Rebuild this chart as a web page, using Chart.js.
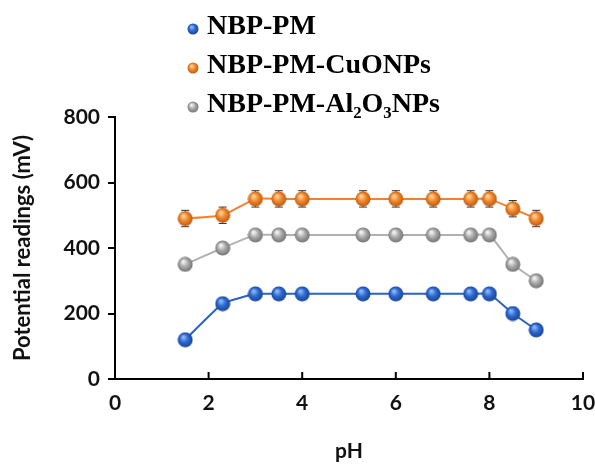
<!DOCTYPE html>
<html>
<head>
<meta charset="utf-8">
<script src="https://cdn.jsdelivr.net/npm/chart.js@4"></script>
<style>
  html, body { margin: 0; padding: 0; background: #fff; }
  #wrap { width: 595px; height: 464px; }
</style>
</head>
<body>
<div id="wrap"><canvas id="phChart" width="595" height="464"></canvas></div>
<script>
// ---- data ----
const phValues = [1.5, 2.3, 3, 3.5, 4, 5.3, 6, 6.8, 7.6, 8, 8.5, 9];
const pmReadings    = [120, 230, 260, 260, 260, 260, 260, 260, 260, 260, 200, 150];
const cuoReadings   = [490, 500, 550, 550, 550, 550, 550, 550, 550, 550, 520, 490];
const al2o3Readings = [350, 400, 440, 440, 440, 440, 440, 440, 440, 440, 350, 300];
const cuoErrors   = [25, 25, 25, 25, 25, 25, 25, 25, 25, 25, 25, 25];
const al2o3Errors = [15, 15, 15, 15, 15, 15, 15, 15, 15, 15, 15, 15];
const xTicks = [0, 2, 4, 6, 8, 10];
const yTicks = [0, 200, 400, 600, 800];

// ---- shaded ball markers ----
function makeBall(size, light, base, dark) {
  const c = document.createElement('canvas');
  c.width = size; c.height = size;
  const g = c.getContext('2d');
  const r = size / 2;
  const grad = g.createRadialGradient(r * 0.75, r * 0.65, r * 0.1, r, r, r);
  grad.addColorStop(0, light);
  grad.addColorStop(0.45, base);
  grad.addColorStop(1, dark);
  g.fillStyle = grad;
  g.beginPath();
  g.arc(r, r, r - 0.5, 0, Math.PI * 2);
  g.fill();
  return c;
}
const colors = {
  blue:   { line: '#2b63c4', light: '#8fb6f5', base: '#2e6bd3', dark: '#173f8f' },
  orange: { line: '#f2802e', light: '#ffd2a0', base: '#f28a2c', dark: '#b8560f' },
  gray:   { line: '#b0b0b0', light: '#f2f2f2', base: '#ababab', dark: '#6e6e6e' }
};
function ball(key, size) {
  const k = colors[key];
  return makeBall(size, k.light, k.base, k.dark);
}

function toPoints(ys) { return phValues.map((x, i) => ({ x: x, y: ys[i] })); }

// ---- error bars ----
const errorBars = {
  id: 'errorBars',
  beforeDatasetsDraw(chart) {
    const ctx = chart.ctx, xs = chart.scales.x, ys = chart.scales.y;
    ctx.save();
    ctx.strokeStyle = '#333';
    ctx.lineWidth = 1;
    chart.data.datasets.forEach(ds => {
      if (!ds.errors) return;
      ds.data.forEach((p, i) => {
        const px = xs.getPixelForValue(p.x);
        const top = ys.getPixelForValue(p.y + ds.errors[i]);
        const bot = ys.getPixelForValue(p.y - ds.errors[i]);
        ctx.beginPath();
        ctx.moveTo(px, top); ctx.lineTo(px, bot);
        ctx.moveTo(px - 4, top); ctx.lineTo(px + 4, top);
        ctx.moveTo(px - 4, bot); ctx.lineTo(px + 4, bot);
        ctx.stroke();
      });
    });
    ctx.restore();
  }
};

// ---- inward x ticks + legend ----
const decorations = {
  id: 'decorations',
  afterDraw(chart) {
    const ctx = chart.ctx, xs = chart.scales.x, area = chart.chartArea;
    ctx.save();
    ctx.strokeStyle = '#000';
    ctx.lineWidth = 2;
    xTicks.forEach(v => {
      const px = xs.getPixelForValue(v);
      ctx.beginPath();
      ctx.moveTo(px, area.bottom);
      ctx.lineTo(px, area.bottom - 7);
      ctx.stroke();
    });
    // legend
    const rows = [29, 68, 107];
    ctx.font = 'bold 28px "Liberation Serif", "Times New Roman", serif';
    ctx.fillStyle = '#000';
    ctx.textBaseline = 'alphabetic';
    chart.data.datasets.forEach((ds, i) => {
      const m = ball(ds.colorKey, 12);
      ctx.drawImage(m, 193 - 6, rows[i] - 6);
      ctx.fillText(ds.label, 207, rows[i] + 5);
    });
    ctx.restore();
  }
};

const datasets = [
  { label: 'NBP-PM', colorKey: 'blue', data: toPoints(pmReadings) },
  { label: 'NBP-PM-CuONPs', colorKey: 'orange', data: toPoints(cuoReadings), errors: cuoErrors },
  { label: 'NBP-PM-Al\u2082O\u2083NPs', colorKey: 'gray', data: toPoints(al2o3Readings), errors: al2o3Errors }
].map(d => Object.assign(d, {
  borderColor: colors[d.colorKey].line,
  backgroundColor: colors[d.colorKey].base,
  borderWidth: 2,
  pointStyle: ball(d.colorKey, 16),
  pointRadius: 8,
  tension: 0.12,
  fill: false
}));
const tickFont = { family: 'Lato, "Open Sans", sans-serif', size: 21, weight: 'bold' };

new Chart(document.getElementById('phChart'), {
  type: 'line',
  data: { datasets: datasets },
  options: {
    responsive: false,
    animation: false,
    layout: { padding: { top: 117, right: 12, left: 0, bottom: 0 } },
    plugins: { legend: { display: false }, tooltip: { enabled: false } },
    scales: {
      x: {
        type: 'linear',
        min: 0, max: 10,
        afterBuildTicks: s => { s.ticks = xTicks.map(v => ({ value: v })); },
        afterFit: s => { s.height = 85; s.paddingRight = 0; s.paddingLeft = 0; },
        grid: { display: true, drawOnChartArea: false, drawTicks: false, tickLength: 0 },
        border: { color: '#000', width: 2 },
        ticks: { color: '#111', font: tickFont, padding: 12 },
        title: { display: true, text: 'pH', color: '#111', font: { family: 'Lato, "Open Sans", sans-serif', size: 21, weight: 'bold' }, padding: { top: 0, bottom: 0 } }
      },
      y: {
        min: 0, max: 800,
        afterBuildTicks: s => { s.ticks = yTicks.map(v => ({ value: v })); },
        afterFit: s => { s.width = 115; },
        grid: { display: true, drawOnChartArea: false, drawTicks: true, tickLength: 7, color: '#000', lineWidth: 2 },
        border: { color: '#000', width: 2 },
        ticks: { color: '#111', font: tickFont, padding: 8 },
        title: { display: true, text: 'Potential readings (mV)', color: '#111', font: { family: 'Lato, "Open Sans", sans-serif', size: 22, weight: 'bold' }, padding: { top: 10, bottom: 0 } }
      }
    }
  },
  plugins: [errorBars, decorations]
});
</script>
</body>
</html>
